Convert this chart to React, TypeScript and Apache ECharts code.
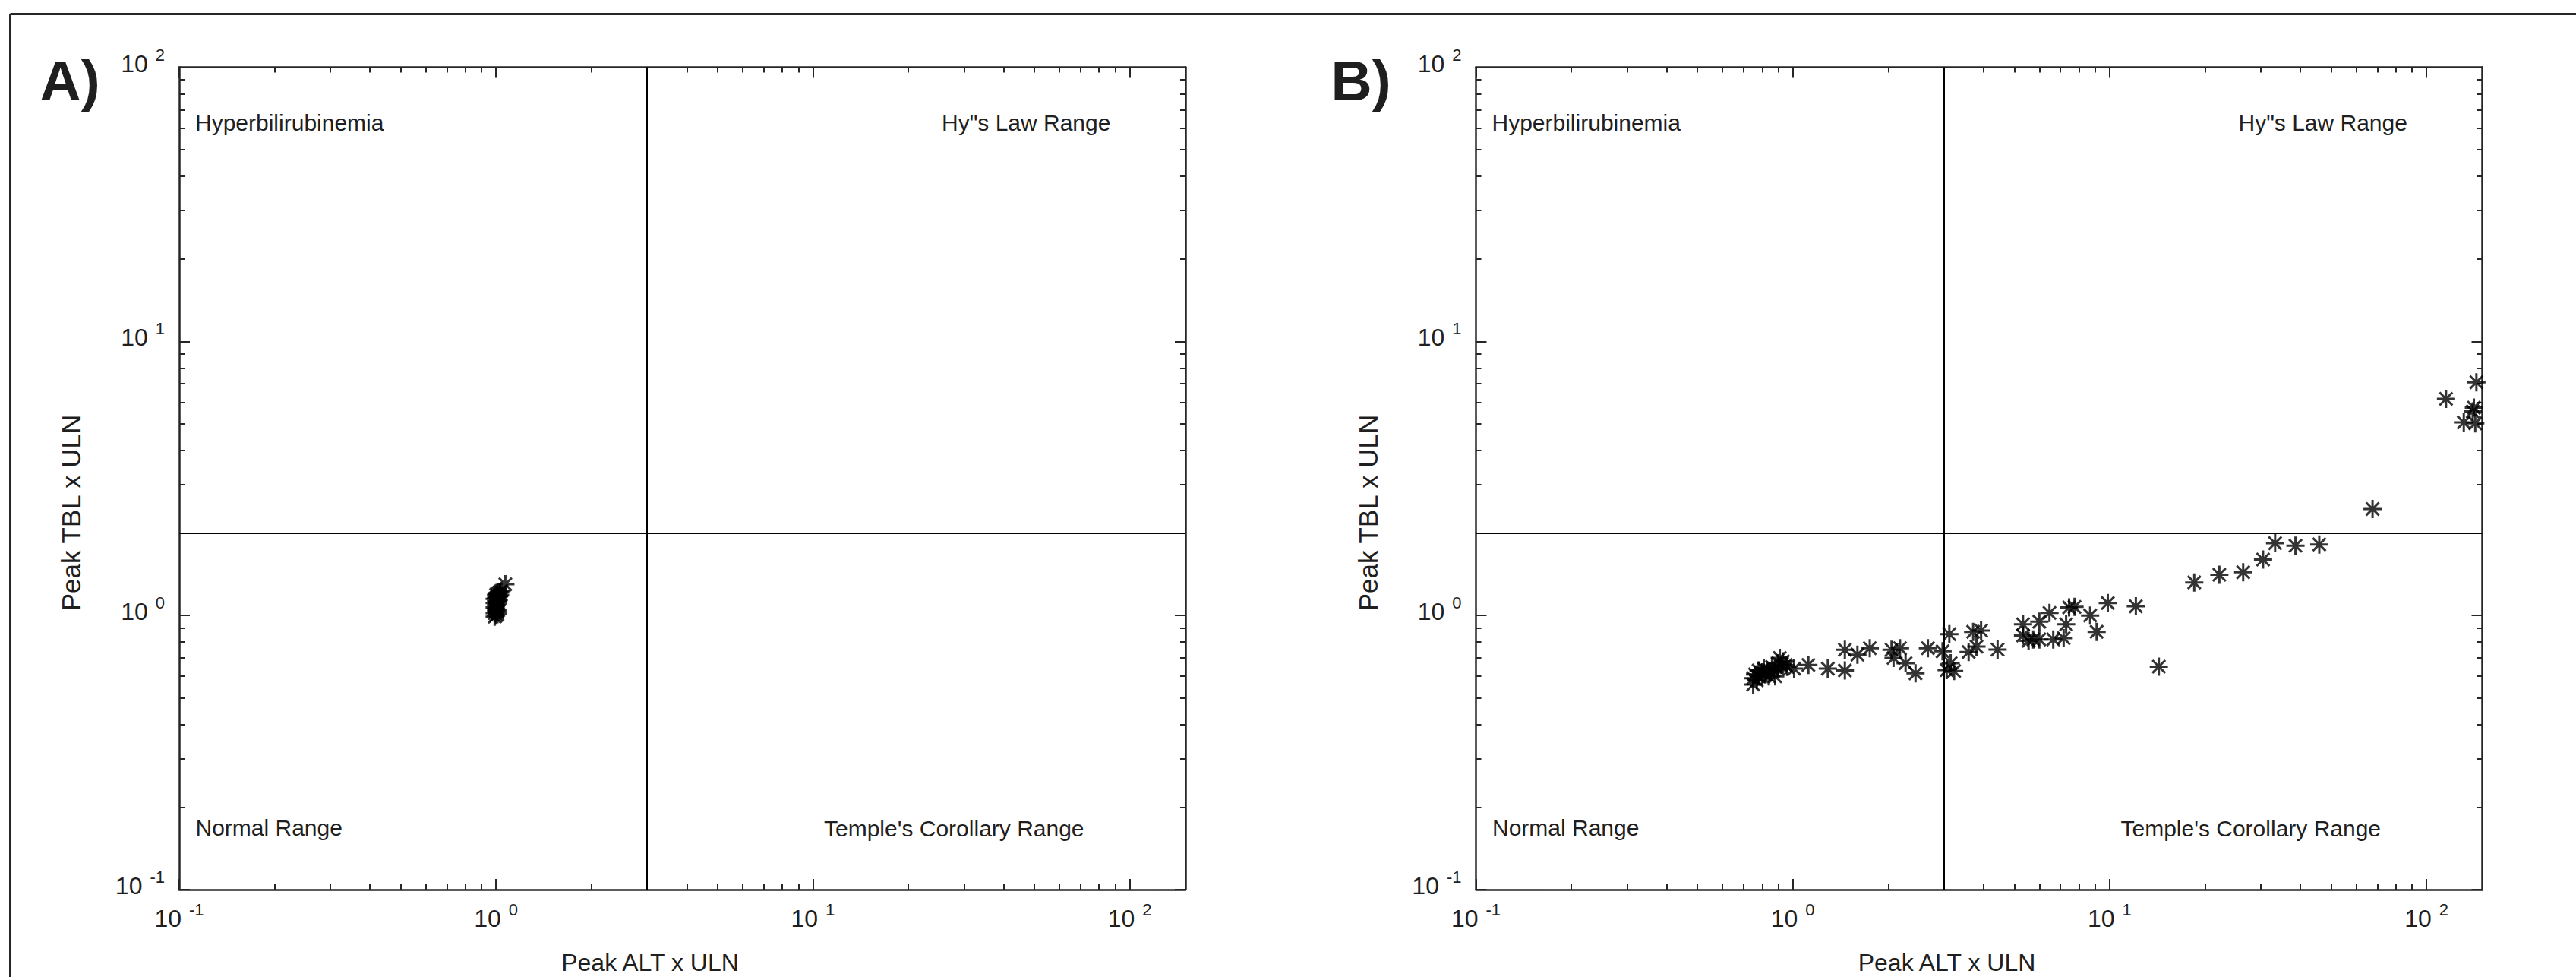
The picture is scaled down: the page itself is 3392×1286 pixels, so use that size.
import React, { useEffect, useRef } from 'react';
import * as echarts from 'echarts';

// ---------------- data ----------------
// Panel A: peak ALT (x ULN) and peak TBL (x ULN)
const altA = [0.99, 1.0, 1.01, 0.99, 1.0, 1.01, 1.0, 0.99, 1.01, 1.0, 0.99, 1.01, 1.0, 1.01, 0.99, 1.0, 1.02, 1.01, 1.0, 1.02, 1.01, 1.03, 1.02, 1.03, 1.04, 1.07];
const tblA = [0.99, 1.0, 1.01, 1.02, 1.04, 1.03, 1.06, 1.07, 1.05, 1.09, 1.11, 1.1, 1.13, 1.12, 1.15, 1.16, 1.14, 1.17, 1.19, 1.18, 1.2, 1.19, 1.21, 1.22, 1.23, 1.3];

// Panel B
const altB = [
  0.75, 0.75, 0.76, 0.77, 0.78, 0.78, 0.8, 0.8, 0.81, 0.82, 0.83, 0.84, 0.85, 0.86, 0.87, 0.88, 0.9, 0.9, 0.91, 0.92, 0.93, 0.95, 0.96, 1.01, 1.12,
  1.29, 1.46, 1.46, 1.6, 1.75,
  2.05, 2.18, 2.08, 2.27, 2.44,
  2.67, 2.97, 3.12, 3.06, 3.23, 3.15,
  3.59, 3.8, 3.71, 3.93, 4.43,
  5.33, 5.33, 5.55, 5.74, 6.0, 6.0, 6.46, 6.64, 7.16, 7.29, 7.45, 7.75, 8.68, 9.1, 9.87, 12.1, 14.3,
  18.5, 22.2, 26.4, 30.5, 33.3, 38.6, 45.9, 67.6,
  115.3, 143.8, 141.2, 140, 131.2, 142.6,
];
const tblB = [
  0.56, 0.59, 0.61, 0.58, 0.6, 0.63, 0.6, 0.62, 0.64, 0.61, 0.63, 0.6, 0.62, 0.65, 0.63, 0.6, 0.64, 0.67, 0.7, 0.66, 0.68, 0.66, 0.65, 0.64, 0.66,
  0.64, 0.75, 0.63, 0.72, 0.76,
  0.75, 0.76, 0.7, 0.67, 0.615,
  0.76, 0.74, 0.855, 0.632, 0.627, 0.67,
  0.736, 0.77, 0.872, 0.881, 0.751,
  0.929, 0.845, 0.809, 0.818, 0.949, 0.818, 1.022, 0.818, 0.827, 0.929, 1.07, 1.075, 1.0, 0.872, 1.11, 1.08, 0.651,
  1.32, 1.408, 1.438, 1.6, 1.836, 1.797, 1.816, 2.447,
  6.17, 7.09, 5.73, 5.55, 5.06, 5.02,
];

const xLimits = [0.1, 150];
const yLimits = [0.1, 100];
const altCut = 3;
const tblCut = 2;
const panelLabels = ['A)', 'B)'];
const quadrantLabels = ['Hyperbilirubinemia', 'Hy"s Law Range', 'Normal Range', "Temple's Corollary Range"];
const xTitle = 'Peak ALT x ULN';
const yTitle = 'Peak TBL x ULN';

// ---------------- styling ----------------
const W = 3392;
const H = 1286;
const AX = '#262626';
const TXT = '#1f1f1f';
const NARROW = "'Liberation Sans Narrow', 'Arial Narrow', 'Liberation Sans', Arial, sans-serif";
const SANS = "'Liberation Sans', Arial, Helvetica, sans-serif";
const STAR = 'path://M10 0 L10 20 M0 10 L20 10 M2.93 2.93 L17.07 17.07 M2.93 17.07 L17.07 2.93';

const GRID_TOP = 88.5;
const GRID_H = 1082.5;
const GRID_W = 1325;
const GRID_LEFT = [236, 1943.5];

function expLabel(v: number) {
  const l = Math.log10(v);
  const e = Math.round(l);
  if (Math.abs(l - e) > 1e-6) return '';
  return `{b|10}{e|${e}}`;
}

const richX = {
  b: { fontFamily: NARROW, fontSize: 32, lineHeight: 32, color: TXT },
  e: { fontFamily: NARROW, fontSize: 22, lineHeight: 22, padding: [0, 0, 23, 10], color: TXT },
};
const richY = {
  b: { fontFamily: NARROW, fontSize: 32, lineHeight: 32, padding: [0, 0, 10, 0], color: TXT },
  e: { fontFamily: NARROW, fontSize: 22, lineHeight: 22, padding: [0, 0, 33, 10], color: TXT },
};

function tickCfg() {
  return {
    axisLine: { show: true, lineStyle: { color: AX, width: 2.5 } },
    axisTick: { show: true, inside: true, length: 14, lineStyle: { color: AX, width: 2 } },
    minorTick: { show: true, splitNumber: 9, length: 7, lineStyle: { color: AX, width: 2 } },
    splitLine: { show: false },
    minorSplitLine: { show: false },
  };
}

function xAxes(g: number) {
  return [
    {
      type: 'log', logBase: 10, gridIndex: g, position: 'bottom', min: xLimits[0], max: xLimits[1],
      ...tickCfg(),
      axisLabel: { show: true, formatter: expLabel, margin: 22, rich: richX, hideOverlap: false },
    },
    {
      type: 'log', logBase: 10, gridIndex: g, position: 'top', min: xLimits[0], max: xLimits[1],
      ...tickCfg(),
      axisLabel: { show: false },
    },
  ];
}

function yAxes(g: number) {
  return [
    {
      type: 'log', logBase: 10, gridIndex: g, position: 'left', min: yLimits[0], max: yLimits[1],
      ...tickCfg(),
      axisLabel: { show: true, formatter: expLabel, margin: 19, rich: richY, align: 'right', hideOverlap: false },
    },
    {
      type: 'log', logBase: 10, gridIndex: g, position: 'right', min: yLimits[0], max: yLimits[1],
      ...tickCfg(),
      axisLabel: { show: false },
    },
  ];
}

function scatterSeries(alt: number[], tbl: number[], axisIdx: number) {
  return {
    type: 'scatter',
    xAxisIndex: axisIdx,
    yAxisIndex: axisIdx,
    data: alt.map((a, i) => [a, tbl[i]]),
    symbol: STAR,
    symbolSize: 24,
    itemStyle: { color: 'rgba(0,0,0,0)', borderColor: '#000', borderWidth: 3 },
    silent: true,
    z: 5,
    markLine: {
      silent: true,
      symbol: ['none', 'none'],
      label: { show: false },
      lineStyle: { color: '#000', width: 2, type: 'solid' },
      emphasis: { disabled: true },
      data: [{ xAxis: altCut }, { yAxis: tblCut }],
      z: 3,
    },
  };
}

function textEl(text: string, x: number, y: number, size: number, opts: any = {}) {
  return {
    type: 'text',
    x,
    y,
    rotation: opts.rotation || 0,
    silent: true,
    style: {
      text,
      fontSize: size,
      fontFamily: opts.family || SANS,
      fontWeight: opts.weight || 'normal',
      fill: opts.fill || TXT,
      align: opts.align || 'left',
      verticalAlign: 'middle',
    },
  };
}

function panelGraphics(p: number) {
  const dx = GRID_LEFT[p] - GRID_LEFT[0];
  const fs = 30;
  const mid = (baseline: number, s: number) => baseline - 0.3465 * s;
  return [
    textEl(panelLabels[p], 52.6 + p * 1700, mid(132, 75), 75, { weight: 'bold' }),
    textEl(quadrantLabels[0], 257 + dx, mid(172, fs), fs),
    textEl(quadrantLabels[1], 1240 + dx, mid(172, fs), fs),
    textEl(quadrantLabels[2], 257.5 + dx, mid(1100, fs), fs),
    textEl(quadrantLabels[3], 1085 + dx, mid(1101, fs), fs),
    textEl(xTitle, 856 + dx, mid(1278, 32), 32, { align: 'center' }),
    textEl(yTitle, 93.5 + dx, 675, 35, { align: 'center', rotation: Math.PI / 2 }),
  ];
}

export default function App() {
  const ref = useRef<HTMLDivElement>(null);
  useEffect(() => {
    if (!ref.current) return;
    const chart = echarts.init(ref.current, undefined, { renderer: 'svg', width: W, height: H });
    chart.setOption({
      animation: false,
      backgroundColor: '#ffffff',
      grid: GRID_LEFT.map((l) => ({
        left: l, top: GRID_TOP, width: GRID_W, height: GRID_H,
        containLabel: false, outerBoundsMode: 'none', show: false,
      })),
      xAxis: [...xAxes(0), ...xAxes(1)],
      yAxis: [...yAxes(0), ...yAxes(1)],
      series: [scatterSeries(altA, tblA, 0), scatterSeries(altB, tblB, 2)],
      graphic: [
        { type: 'line', silent: true, shape: { x1: 13.5, y1: 18.5, x2: W, y2: 18.5 }, style: { stroke: AX, lineWidth: 3 } },
        { type: 'line', silent: true, shape: { x1: 13.5, y1: 18.5, x2: 13.5, y2: H }, style: { stroke: AX, lineWidth: 3 } },
        ...panelGraphics(0),
        ...panelGraphics(1),
      ],
    });
    return () => chart.dispose();
  }, []);
  return (
    <div
      ref={ref}
      style={{ position: 'absolute', left: 0, top: 0, width: W, height: H, background: '#fff' }}
    />
  );
}
